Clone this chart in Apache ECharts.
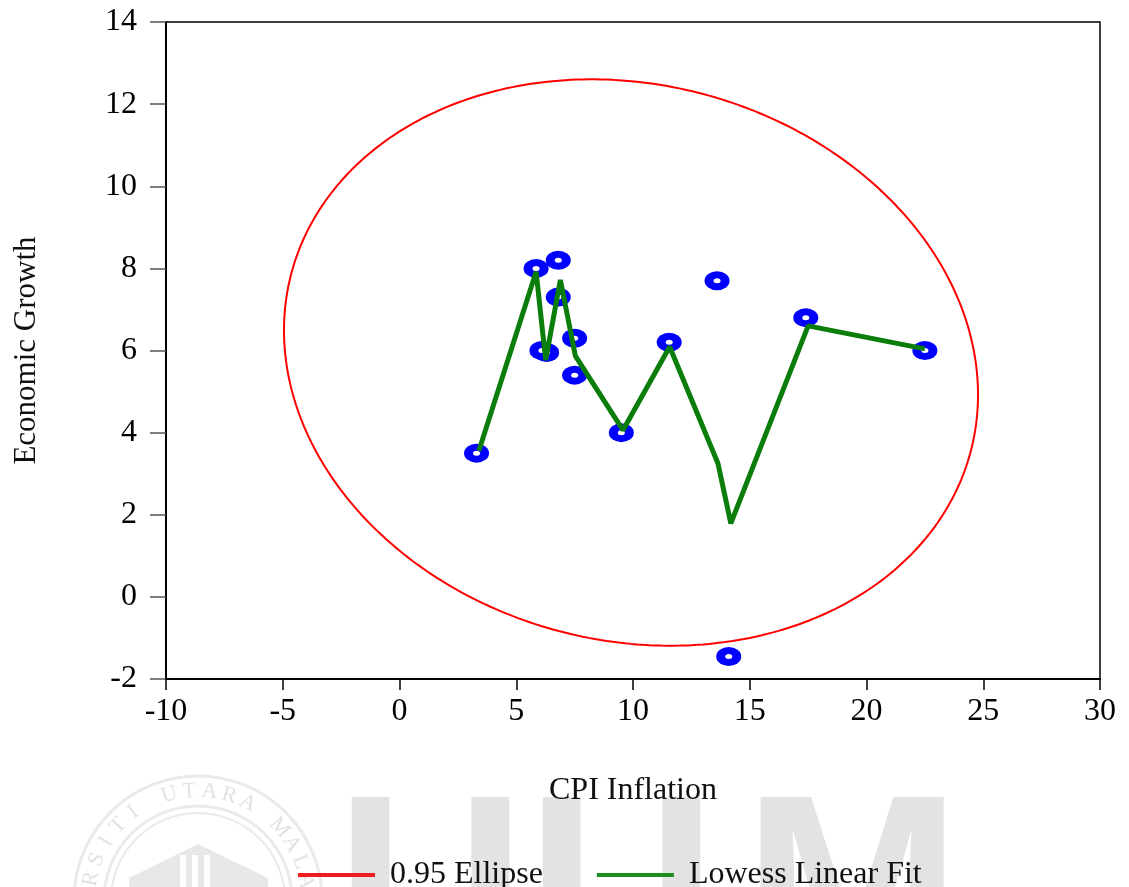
<!DOCTYPE html>
<html><head><meta charset="utf-8">
<script src="https://cdn.jsdelivr.net/npm/echarts@6/dist/echarts.min.js"></script>
<style>html,body{margin:0;padding:0;background:#fff}#c{width:1129px;height:887px}</style>
</head><body><div id="c"></div>
<script>
// ---- data ----
const inflation = [3.3, 5.85, 6.8, 6.8, 7.5, 6.1, 6.3, 7.5, 9.5, 11.55, 13.6, 17.4, 22.5, 14.1];
const growth    = [3.5, 8.0, 8.2, 7.3, 6.3, 6.0, 5.95, 5.4, 4.0, 6.2, 7.7, 6.8, 6.0, -1.45];
const fitX = [3.4, 5.85, 6.26, 6.89, 7.53, 9.57, 11.57, 13.64, 14.19, 17.5, 22.5];
const fitY = [3.56, 7.92, 5.77, 7.72, 5.87, 4.06, 6.09, 3.25, 1.79, 6.6, 6.04];
const seriesNames = ['0.95 Ellipse', 'Lowess Linear Fit'];
const xTitle = 'CPI Inflation';
const yTitle = 'Economic Growth';
const F95 = 3.885; // F(0.95; 2, n-2) for n = 14

// ---- derived: 0.95 ellipse from the sample mean and covariance ----
const n = inflation.length;
const mx = inflation.reduce((a, b) => a + b, 0) / n;
const my = growth.reduce((a, b) => a + b, 0) / n;
let sxx = 0, syy = 0, sxy = 0;
for (let i = 0; i < n; i++) {
  const dx = inflation[i] - mx, dy = growth[i] - my;
  sxx += dx * dx; syy += dy * dy; sxy += dx * dy;
}
sxx /= n; syy /= n; sxy /= n;
const k = Math.sqrt(2 * (n - 1) / (n - 2) * F95);
const la = Math.sqrt(sxx), lb = sxy / la, lc = Math.sqrt(syy - lb * lb);
const ellipse = [];
for (let j = 0; j <= 360; j++) {
  const t = j / 360 * 2 * Math.PI;
  ellipse.push([mx + k * la * Math.cos(t), my + k * (lb * Math.cos(t) + lc * Math.sin(t))]);
}
const points = inflation.map((x, i) => [x, growth[i]]);
const fit = fitX.map((x, i) => [x, fitY[i]]);

// ---- watermark decoration ----
const wm = [];
const wmC = [198, 900];
wm.push({type: 'circle', shape: {cx: wmC[0], cy: wmC[1], r: 124}, style: {fill: null, stroke: '#eaeaea', lineWidth: 3}, z: -10});
wm.push({type: 'circle', shape: {cx: wmC[0], cy: wmC[1], r: 94}, style: {fill: null, stroke: '#eaeaea', lineWidth: 3}, z: -10});
wm.push({type: 'circle', shape: {cx: wmC[0], cy: wmC[1], r: 87}, style: {fill: null, stroke: '#eaeaea', lineWidth: 2}, z: -10});
const wmText = 'UNIVERSITI UTARA MALAYSIA';
for (let i = 0; i < wmText.length; i++) {
  const th = (6 + (i - 13) * 10.6) * Math.PI / 180;
  const r = 109;
  wm.push({type: 'text', x: wmC[0] + r * Math.sin(th), y: wmC[1] - r * Math.cos(th), rotation: -th, z: -10,
    style: {text: wmText[i], font: '22px "Liberation Serif"', fill: '#e2e2e2', align: 'center', verticalAlign: 'middle'}});
}
wm.push({type: 'polygon', shape: {points: [[129, 887], [129, 878], [198, 844], [268, 878], [268, 887]]}, style: {fill: '#e8e8e8'}, z: -10});
wm.push({type: 'rect', shape: {x: 180, y: 855, width: 6, height: 40}, style: {fill: '#ffffff'}, z: -9});
wm.push({type: 'rect', shape: {x: 192, y: 855, width: 6, height: 40}, style: {fill: '#ffffff'}, z: -9});
wm.push({type: 'rect', shape: {x: 204, y: 855, width: 6, height: 40}, style: {fill: '#ffffff'}, z: -9});
[['U', 336], ['U', 527], ['M', 743]].forEach(([ch, x]) => {
  wm.push({type: 'text', x: x, y: 774, z: -10,
    style: {text: ch, font: 'bold 262px "Liberation Sans"', fill: '#e3e3e3', align: 'left', verticalAlign: 'top'}});
});

const serif = 'Liberation Serif';
const chart = echarts.init(document.getElementById('c'), null, {renderer: 'canvas'});
chart.setOption({
  animation: false,
  backgroundColor: '#ffffff',
  graphic: wm,
  grid: {left: 166, right: 29, top: 22, bottom: 208, show: true, borderColor: '#000', borderWidth: 1.5, backgroundColor: 'transparent'},
  xAxis: {
    type: 'value', min: -10, max: 30, interval: 5,
    name: xTitle, nameLocation: 'middle', nameGap: 96,
    nameTextStyle: {fontFamily: serif, fontSize: 32, color: '#111'},
    axisLine: {show: true, onZero: false, lineStyle: {color: '#000', width: 2}},
    axisTick: {show: true, inside: false, length: 11, lineStyle: {color: '#000', width: 1.5}},
    axisLabel: {fontFamily: serif, fontSize: 32, color: '#000', margin: 17},
    splitLine: {show: false}
  },
  yAxis: {
    type: 'value', min: -2, max: 14, interval: 2,
    name: yTitle, nameLocation: 'middle', nameGap: 124, nameRotate: 90,
    nameTextStyle: {fontFamily: serif, fontSize: 31, color: '#111'},
    axisLine: {show: true, onZero: false, lineStyle: {color: '#000', width: 2}},
    axisTick: {show: true, inside: false, length: 16, lineStyle: {color: '#555', width: 1.5}},
    axisLabel: {fontFamily: serif, fontSize: 32, color: '#000', margin: 29},
    splitLine: {show: false}
  },
  legend: {
    data: seriesNames, left: 293, top: 854, icon: 'rect', itemWidth: 77, itemHeight: 4, itemGap: 54,
    textStyle: {fontFamily: serif, fontSize: 32, color: '#111', padding: [0, 0, 0, 10]}
  },
  series: [
    {name: seriesNames[0], type: 'line', data: ellipse, showSymbol: false, symbol: 'none', smooth: false,
      lineStyle: {color: '#ff0000', width: 2}, itemStyle: {color: '#ee1c1c'}, z: 2, silent: true},
    {name: 'obs', type: 'scatter', data: points, symbol: 'circle', symbolSize: [25, 19],
      itemStyle: {color: '#0000ff', opacity: 1}, z: 3, silent: true},
    {name: 'obs2', type: 'scatter', data: points, symbol: 'circle', symbolSize: [7, 5],
      itemStyle: {color: '#ffffff', opacity: 1}, z: 4, silent: true},
    {name: seriesNames[1], type: 'line', data: fit, showSymbol: false, symbol: 'none', smooth: false,
      lineStyle: {color: '#0a7d0a', width: 5}, itemStyle: {color: '#1f8c1f'}, z: 5, silent: true}
  ]
});
</script></body></html>
